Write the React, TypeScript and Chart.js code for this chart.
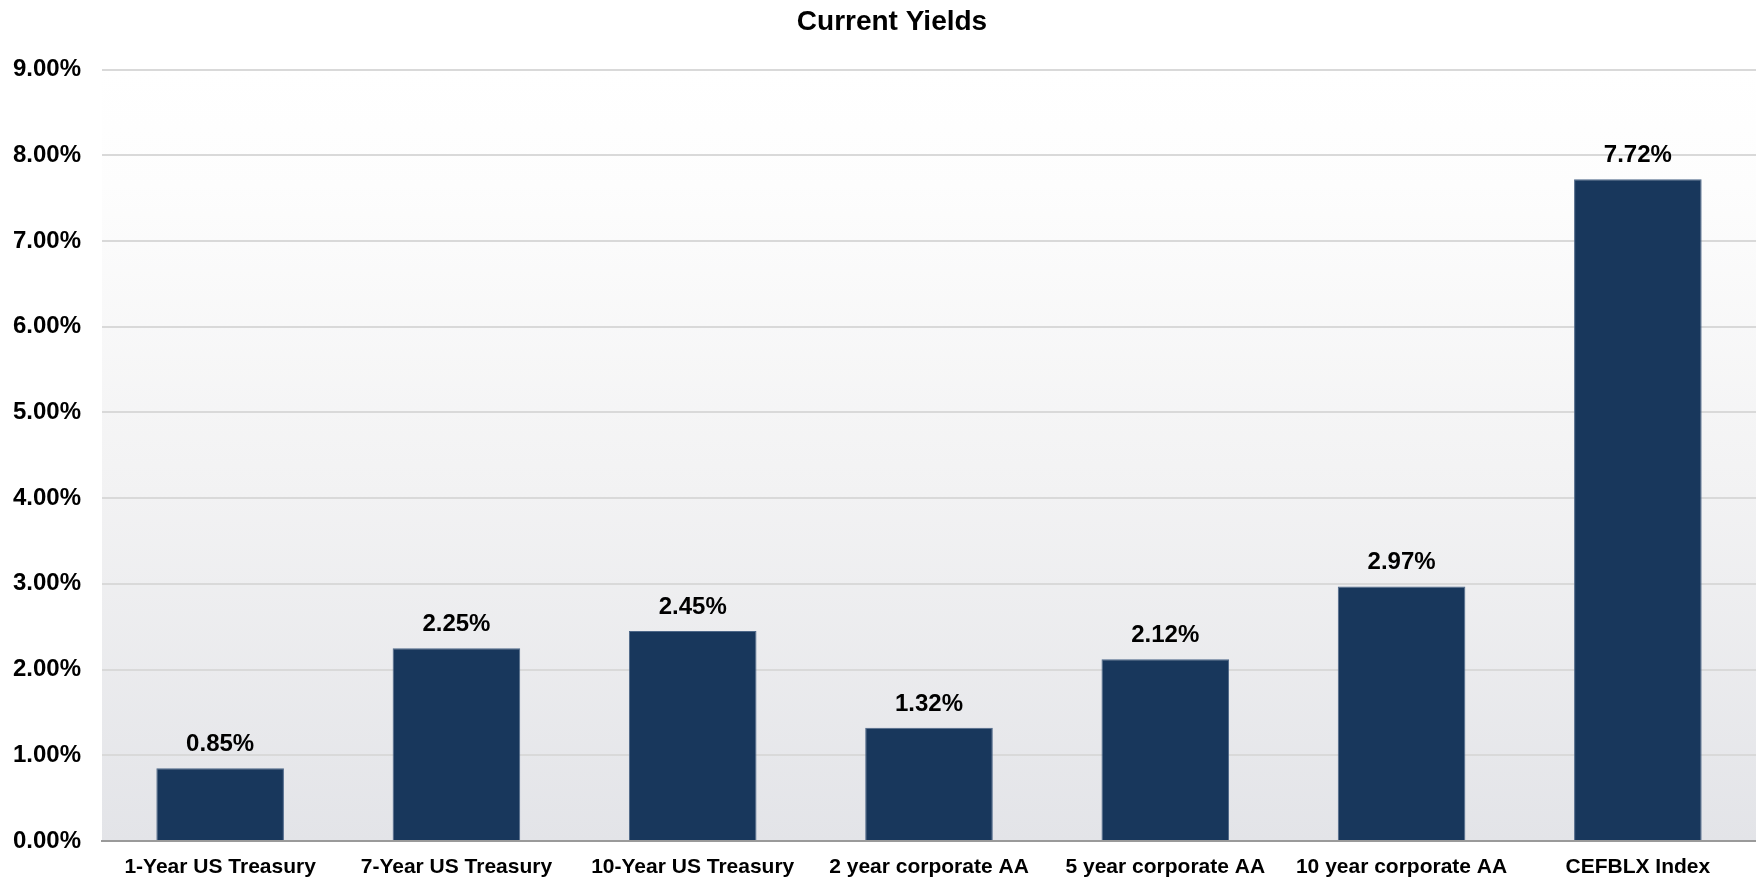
import React, { useEffect, useRef } from "react";
import { Chart, registerables } from "chart.js";

Chart.register(...registerables);

const categories = [
  "1-Year US Treasury",
  "7-Year US Treasury",
  "10-Year US Treasury",
  "2 year corporate AA",
  "5 year corporate AA",
  "10 year corporate AA",
  "CEFBLX Index",
];
const yields = [0.85, 2.25, 2.45, 1.32, 2.12, 2.97, 7.72];
const chartTitle = "Current Yields";
const yMin = 0;
const yMax = 9;
const yStep = 1;

const FONT = "'Liberation Sans', Arial, Helvetica, sans-serif";

const bgPlugin = {
  id: "plotBg",
  afterLayout(chart: any) {
    const tb = chart.titleBlock;
    if (tb) {
      tb.left += 28;
    }
  },
  beforeDraw(chart: any) {
    const { ctx, chartArea, width, height } = chart;
    ctx.save();
    ctx.fillStyle = "#ffffff";
    ctx.fillRect(0, 0, width, height);
    if (chartArea) {
      const g = ctx.createLinearGradient(0, chartArea.top, 0, chartArea.bottom);
      g.addColorStop(0, "#ffffff");
      g.addColorStop(0.15, "#fdfdfd");
      g.addColorStop(0.55, "#f2f2f3");
      g.addColorStop(1, "#e3e4e8");
      ctx.fillStyle = g;
      ctx.fillRect(chartArea.left, chartArea.top, chartArea.right - chartArea.left, chartArea.bottom - chartArea.top);
    }
    ctx.restore();
  },
};

const labelPlugin = {
  id: "valueLabels",
  afterDatasetsDraw(chart: any) {
    const { ctx } = chart;
    const meta = chart.getDatasetMeta(0);
    const data = chart.data.datasets[0].data as number[];
    ctx.save();
    ctx.font = `bold 24px ${FONT}`;
    ctx.fillStyle = "#000000";
    ctx.textAlign = "center";
    ctx.textBaseline = "alphabetic";
    meta.data.forEach((bar: any, i: number) => {
      ctx.fillText(data[i].toFixed(2) + "%", bar.x, bar.y - 17);
    });
    ctx.restore();
  },
};

export default function App() {
  const ref = useRef<HTMLCanvasElement | null>(null);
  useEffect(() => {
    document.body.style.margin = "0";
    if (!ref.current) return;
    Chart.defaults.font.family = FONT;
    const chart = new Chart(ref.current, {
      type: "bar",
      data: {
        labels: categories,
        datasets: [
          {
            data: yields,
            backgroundColor: "#18375c",
            borderColor: "#4d6788",
            borderWidth: 1,
            categoryPercentage: 1,
            barPercentage: 0.54,
          },
        ],
      },
      options: {
        animation: false,
        responsive: false,
        devicePixelRatio: 1,
        layout: { padding: { left: 0, right: 0, top: 0, bottom: 0 } },
        plugins: {
          legend: { display: false },
          tooltip: { enabled: false },
          title: {
            display: true,
            text: chartTitle,
            color: "#000000",
            font: { size: 28, weight: "bold", family: FONT },
            padding: { top: 5, bottom: 31 },
          },
        },
        scales: {
          x: {
            afterFit(scale: any) {
              scale.height = 39;
            },
            grid: { display: false, drawTicks: false },
            border: { display: true, color: "#9a9a9a", width: 2 },
            ticks: {
              color: "#000000",
              font: { size: 21, weight: "bold", family: FONT },
              padding: 14,
              maxRotation: 0,
              autoSkip: false,
            },
          },
          y: {
            min: yMin,
            max: yMax,
            afterFit(scale: any) {
              scale.width = 102;
            },
            grid: { color: "#d9d9d9", lineWidth: 2, drawTicks: false },
            border: { display: false },
            ticks: {
              stepSize: yStep,
              color: "#000000",
              font: { size: 24, weight: "bold", family: FONT },
              padding: 21,
              callback: (v: any) => Number(v).toFixed(2) + "%",
            },
          },
        },
      },
      plugins: [bgPlugin, labelPlugin],
    });
    return () => chart.destroy();
  }, []);
  return (
    <div style={{ width: 1756, height: 880 }}>
      <canvas ref={ref} width={1756} height={880} style={{ display: "block" }} />
    </div>
  );
}
